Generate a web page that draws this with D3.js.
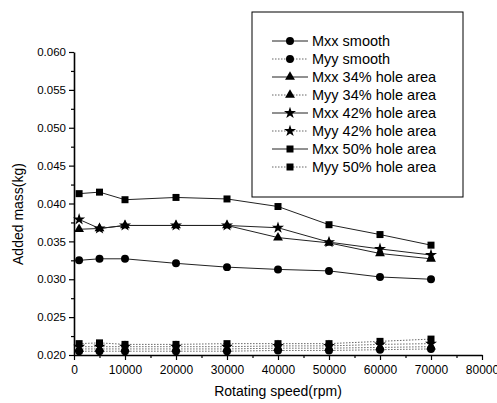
<!DOCTYPE html>
<html>
<head>
<meta charset="utf-8">
<script src="https://cdn.jsdelivr.net/npm/d3@7"></script>
<style>
  body { margin: 0; background: #fff; }
  svg { font-family: "Liberation Sans", Arial, sans-serif; }
</style>
</head>
<body>
<div id="chart"></div>
<script>
// rotating speed (rpm)
const speeds = [1000, 5000, 10000, 20000, 30000, 40000, 50000, 60000, 70000];

// added mass (kg)
const mxxSmooth = [0.0325, 0.0327, 0.0327, 0.0321, 0.0316, 0.0313, 0.0311, 0.0303, 0.0300];
const myySmooth = [0.0205, 0.0205, 0.0205, 0.0205, 0.0205, 0.0206, 0.0206, 0.0207, 0.0208];
const mxx34 = [0.0366, 0.0367, 0.0371, 0.0371, 0.0371, 0.0355, 0.0348, 0.0334, 0.0327];
const myy34 = [0.0208, 0.0208, 0.0208, 0.0208, 0.0208, 0.0209, 0.0209, 0.0210, 0.0211];
const mxx42 = [0.0379, 0.0367, 0.0371, 0.0371, 0.0371, 0.0368, 0.0349, 0.0340, 0.0332];
const myy42 = [0.0211, 0.0211, 0.0211, 0.0211, 0.0211, 0.0212, 0.0212, 0.0214, 0.0215];
const mxx50 = [0.0413, 0.0415, 0.0405, 0.0408, 0.0406, 0.0396, 0.0372, 0.0359, 0.0345];
const myy50 = [0.0215, 0.0216, 0.0214, 0.0214, 0.0215, 0.0215, 0.0215, 0.0218, 0.0221];

const seriesNames = ["Mxx smooth", "Myy smooth", "Mxx 34% hole area", "Myy 34% hole area",
                     "Mxx 42% hole area", "Myy 42% hole area", "Mxx 50% hole area", "Myy 50% hole area"];
const xTicks = [0, 10000, 20000, 30000, 40000, 50000, 60000, 70000, 80000];
const yTicks = [0.020, 0.025, 0.030, 0.035, 0.040, 0.045, 0.050, 0.055, 0.060];

const series = [
  {name: seriesNames[0], values: mxxSmooth, symbol: d3.symbolCircle, size: 50, dotted: false},
  {name: seriesNames[1], values: myySmooth, symbol: d3.symbolCircle, size: 50, dotted: true},
  {name: seriesNames[2], values: mxx34, symbol: d3.symbolTriangle, size: 42, dotted: false},
  {name: seriesNames[3], values: myy34, symbol: d3.symbolTriangle, size: 42, dotted: true},
  {name: seriesNames[4], values: mxx42, symbol: d3.symbolStar, size: 45, dotted: false},
  {name: seriesNames[5], values: myy42, symbol: d3.symbolStar, size: 45, dotted: true},
  {name: seriesNames[6], values: mxx50, symbol: d3.symbolSquare, size: 49, dotted: false},
  {name: seriesNames[7], values: myy50, symbol: d3.symbolSquare, size: 49, dotted: true}
];

const width = 497, height = 403;
const svg = d3.select("#chart").append("svg")
  .attr("width", width)
  .attr("height", height);

const x = d3.scaleLinear().domain([0, 80000]).range([74, 482]);
const y = d3.scaleLinear().domain([0.020, 0.060]).range([355, 52]);

// minor ticks
const xMinor = d3.range(5000, 80000, 10000);
const yMinor = d3.range(0.0225, 0.060, 0.005);

svg.append("g")
  .attr("transform", `translate(0,${y(0.020)})`)
  .call(d3.axisBottom(x).tickValues(xMinor).tickSize(3).tickFormat(""))
  .call(g => g.select(".domain").remove());
svg.append("g")
  .attr("transform", `translate(${x(0)},0)`)
  .call(d3.axisLeft(y).tickValues(yMinor).tickSize(3).tickFormat(""))
  .call(g => g.select(".domain").remove());

const xAxis = svg.append("g")
  .attr("transform", `translate(0,${y(0.020)})`)
  .call(d3.axisBottom(x).tickValues(xTicks).tickSize(5).tickSizeOuter(0).tickPadding(5).tickFormat(d3.format("d")));
xAxis.selectAll("text").style("font-size", "12px").attr("fill", "#000");

const yAxis = svg.append("g")
  .attr("transform", `translate(${x(0)},0)`)
  .call(d3.axisLeft(y).tickValues(yTicks).tickSize(5).tickSizeOuter(0).tickPadding(3).tickFormat(d3.format(".3f")));
yAxis.selectAll("text").style("font-size", "11.5px").attr("fill", "#000");

svg.selectAll(".domain").attr("stroke", "#000").attr("stroke-width", 1.6);
svg.selectAll(".tick line").attr("stroke", "#000").attr("stroke-width", 1.2);

// axis titles
svg.append("text")
  .attr("x", (x(0) + x(80000)) / 2)
  .attr("y", 396)
  .attr("text-anchor", "middle")
  .style("font-size", "14px")
  .text("Rotating speed(rpm)");

svg.append("text")
  .attr("transform", "translate(23,214) rotate(-90)")
  .attr("text-anchor", "middle")
  .style("font-size", "14px")
  .text("Added mass(kg)");

// lines and markers
const line = d3.line()
  .x((d, i) => x(speeds[i]))
  .y(d => y(d));

series.forEach(s => {
  svg.append("path")
    .datum(s.values)
    .attr("fill", "none")
    .attr("stroke", s.dotted ? "#666" : "#222")
    .attr("stroke-width", 1)
    .attr("stroke-dasharray", s.dotted ? "1.5,1.5" : null)
    .attr("d", line);

  svg.append("g").selectAll("path")
    .data(s.values)
    .join("path")
    .attr("transform", (d, i) => `translate(${x(speeds[i])},${y(d)})`)
    .attr("d", d3.symbol().type(s.symbol).size(s.size))
    .attr("fill", "#000");
});

// legend
const legend = svg.append("g");
legend.append("rect")
  .attr("x", 252)
  .attr("y", 12)
  .attr("width", 211)
  .attr("height", 185)
  .attr("fill", "#fff")
  .attr("stroke", "#000")
  .attr("stroke-width", 1);

series.forEach((s, i) => {
  const ly = 41 + i * 18;
  legend.append("line")
    .attr("x1", 272).attr("x2", 308)
    .attr("y1", ly).attr("y2", ly)
    .attr("stroke", s.dotted ? "#666" : "#222")
    .attr("stroke-width", 1)
    .attr("stroke-dasharray", s.dotted ? "1.5,1.5" : null);
  legend.append("path")
    .attr("transform", `translate(290,${ly})`)
    .attr("d", d3.symbol().type(s.symbol).size(s.size))
    .attr("fill", "#000");
  legend.append("text")
    .attr("x", 312)
    .attr("y", ly)
    .attr("dy", "0.35em")
    .style("font-size", "14.5px")
    .text(s.name);
});
</script>
</body>
</html>
